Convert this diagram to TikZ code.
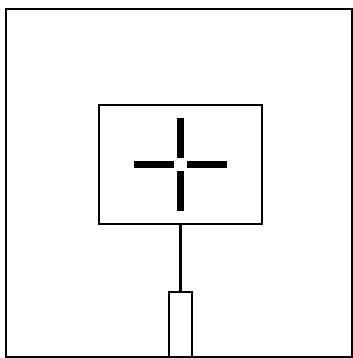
\documentclass[tikz,border=0pt]{standalone}
\usepackage{tikz}
\usetikzlibrary{positioning}
\begin{document}
\begin{tikzpicture}[x=0.75pt, y=-0.75pt]
  \tikzset{box/.style={draw, line width=1.3pt, inner sep=0pt}}
  \def\armw{5.25pt} % cross arm width
  \useasboundingbox (0,0) rectangle (353,358);

  % Outer frame
  \draw[line width=1.5pt] (6,9) rectangle (352,357);

  % Screen and stand
  \node[box, minimum width=122.25pt, minimum height=89.25pt] (screen) at (180.5,164.5) {};
  \node[box, minimum width=17.25pt, minimum height=50.25pt, below=49.5pt of screen] (stand) {};
  \draw[line width=2.6pt] (screen.south) -- (stand.north);

  % Crosshair
  \foreach \ang in {0,90,180,270}
    \draw[line width=\armw] ([shift={(\ang:4.9pt)}]screen.center) -- ([shift={(\ang:34.9pt)}]screen.center);
\end{tikzpicture}
\end{document}
